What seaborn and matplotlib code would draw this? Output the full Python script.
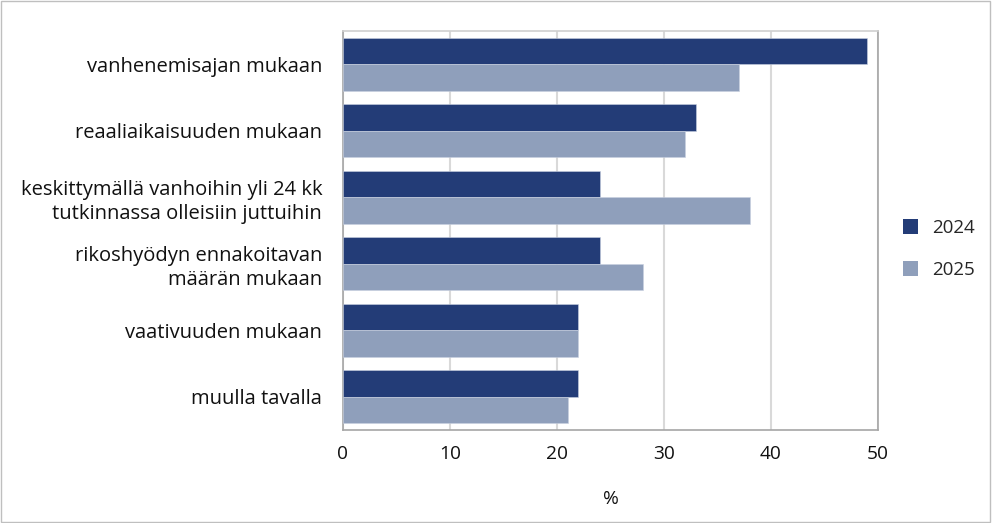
import matplotlib
matplotlib.use("Agg")
import matplotlib.pyplot as plt
import seaborn as sns
import pandas as pd
from matplotlib.patches import Rectangle, Patch

categories = [
    "vanhenemisajan mukaan",
    "reaaliaikaisuuden mukaan",
    "keskittymällä vanhoihin yli 24 kk\ntutkinnassa olleisiin juttuihin",
    "rikoshyödyn ennakoitavan\nmäärän mukaan",
    "vaativuuden mukaan",
    "muulla tavalla",
]
values_2024 = [49, 33, 24, 24, 22, 22]
values_2025 = [37, 32, 38, 28, 22, 21]
series = ["2024", "2025"]
colors = ["#233c77", "#8f9fbb"]
xticks = [0, 10, 20, 30, 40, 50]

df = pd.DataFrame({
    "category": categories * 2,
    "value": values_2024 + values_2025,
    "year": [series[0]] * len(categories) + [series[1]] * len(categories),
})

sns.set_theme(style="white")
plt.rcParams["font.family"] = ["Open Sans", "DejaVu Sans"]
FS = 13.8
FSY = 14.5

fig = plt.figure(figsize=(9.92, 5.23), dpi=100)
ax = fig.add_axes([343 / 992, (523 - 430) / 523, 535 / 992, 399 / 523])

sns.barplot(data=df, y="category", x="value", hue="year", orient="h",
            palette=colors, saturation=1, ax=ax, width=0.8, legend=False,
            edgecolor="#c8d0e0", linewidth=0.4, zorder=3)

ax.set_xlim(0, 50)
ax.set_xticks(xticks)
ax.set_xticklabels([str(t) for t in xticks], fontsize=FS, color="#111111")
ax.tick_params(axis="x", length=0, pad=11)
ax.tick_params(axis="y", length=0, pad=15, labelsize=FSY, labelcolor="#111111")
for lbl in ax.get_yticklabels():
    lbl.set_horizontalalignment("right")
    lbl.set_multialignment("right")
    lbl.set_linespacing(1.25)
ax.grid(axis="x", color="#d9d9d9", linewidth=1.5, zorder=0)
ax.set_axisbelow(True)
ax.set_ylabel("")
ax.set_xlabel("%", fontsize=FS, color="#111111", labelpad=19)
for s in ax.spines.values():
    s.set_color("#a6a6a6")
    s.set_linewidth(1.2)
ax.spines["top"].set_color("#d0d0d0")

handles = [Patch(facecolor=c, edgecolor="none") for c in colors]
fig.legend(handles, series, loc="center left", bbox_to_anchor=(895 / 992, 1 - 249 / 523),
           frameon=False, fontsize=13.5, handlelength=0.85, handleheight=0.85,
           handletextpad=0.75, labelspacing=1.3, borderaxespad=0)

fig.patches.append(Rectangle((0.001, 0.002), 0.997, 0.996, transform=fig.transFigure,
                             fill=False, edgecolor="#bfbfbf", linewidth=1.0))

fig.savefig("out.png", dpi=100, facecolor="white")
